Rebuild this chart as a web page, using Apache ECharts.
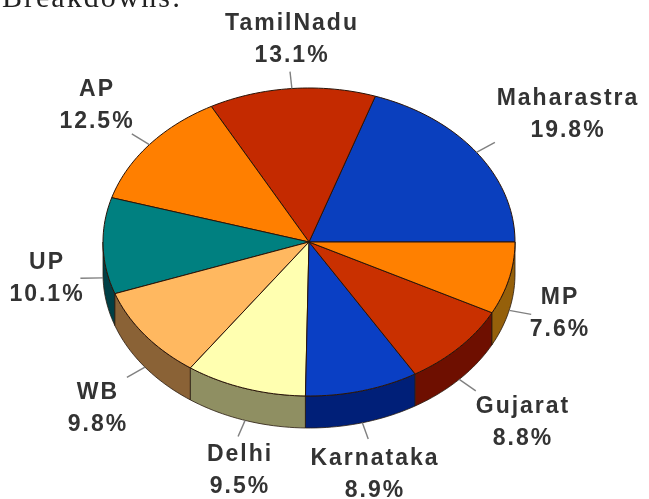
<!DOCTYPE html>
<html>
<head>
<meta charset="utf-8">
<style>
html,body{margin:0;padding:0;background:#fff;overflow:hidden}
#main{width:649px;height:499px;filter:blur(0.55px)}
</style>
<script src="https://cdn.jsdelivr.net/npm/echarts@6/dist/echarts.min.js"></script>
</head>
<body>
<div id="main"></div>
<script>
const heading = 'Breakdowns:';
const categories = ['Maharastra','TamilNadu','AP','UP','WB','Delhi','Karnataka','Gujarat','MP'];
const shares = [19.8,13.1,12.5,10.1,9.8,9.5,8.9,8.8,7.6];
const topColors = ['#0a3fbe','#c42a00','#ff7f00','#008080','#ffb860','#ffffb0','#0a3fc4','#c93000','#ff8000'];
const sideColors = ['#04206a','#6a1500','#8a4a00','#003f45','#8a6236','#8f8f62','#001f78','#6e0f00','#95600a'];
const labelCentres = [[568,115],[292,40],[97,106],[47,279],[98,409],[240,471],[375,475],[523,423],[560,314]];

const geom = {cx:309, cy:242, rx:206, ry:154, depth:32, leader:1.11};
const toRad = d => d*Math.PI/180;
const pt = (deg,dy,k) => [
  geom.cx + (k||1)*geom.rx*Math.cos(toRad(deg)),
  geom.cy - (k||1)*geom.ry*Math.sin(toRad(deg)) + (dy||0)
];
function arc(a,b,dy){
  const out=[], n=Math.max(2,Math.ceil((b-a)/1.5));
  for(let i=0;i<=n;i++) out.push(pt(a+(b-a)*i/n,dy));
  return out;
}
const total = shares.reduce((s,v)=>s+v,0);
let running = 0;
const rows = shares.map(v=>{const r=[v,running,running+v];running+=v;return r;});

function renderItem(params,api){
  const i=params.dataIndex;
  const a=api.value(1)/total*360, b=api.value(2)/total*360, mid=(a+b)/2;
  const kids=[];
  const sa=Math.max(a,180), sb=Math.min(b,360);
  if(sb>sa){
    kids.push({type:'polygon',z2:1,
      shape:{points:arc(sa,sb,0).concat(arc(sa,sb,geom.depth).reverse())},
      style:{fill:sideColors[i],stroke:'#2a1c10',lineWidth:0.8}});
  }
  kids.push({type:'polygon',z2:2,
    shape:{points:[[geom.cx,geom.cy]].concat(arc(a,b,0))},
    style:{fill:topColors[i],stroke:'#2a1408',lineWidth:1}});
  const dy=Math.sin(toRad(mid))<0?geom.depth:0;
  const p0=pt(mid,dy), p1=pt(mid,dy,geom.leader);
  kids.push({type:'line',z2:3,
    shape:{x1:p0[0],y1:p0[1],x2:p1[0],y2:p1[1]},
    style:{stroke:'#808080',lineWidth:1.4}});
  kids.push({type:'text',z2:4,
    style:{text:categories[i]+'\n'+api.value(0).toFixed(1)+'%',
      x:labelCentres[i][0],y:labelCentres[i][1],align:'center',verticalAlign:'middle',
      font:'bold 23px "Liberation Sans"',lineHeight:32,fill:'#333333'}});
  return {type:'group',children:kids};
}

const chart=echarts.init(document.getElementById('main'),null,{renderer:'canvas'});
chart.setOption({
  animation:false,
  backgroundColor:'#ffffff',
  graphic:[{type:'text',x:2,y:14,silent:true,
    style:{text:heading,font:'30px "Liberation Serif"',fill:'#222222',verticalAlign:'bottom'}}],
  series:[{type:'custom',coordinateSystem:'none',silent:true,renderItem,data:rows,
    dimensions:['share','start','end']}]
});
document.querySelectorAll('#main canvas').forEach(c=>{
  c.getContext('2d').letterSpacing='2px';
});
chart.getZr().painter.refresh(true);
</script>
</body>
</html>
